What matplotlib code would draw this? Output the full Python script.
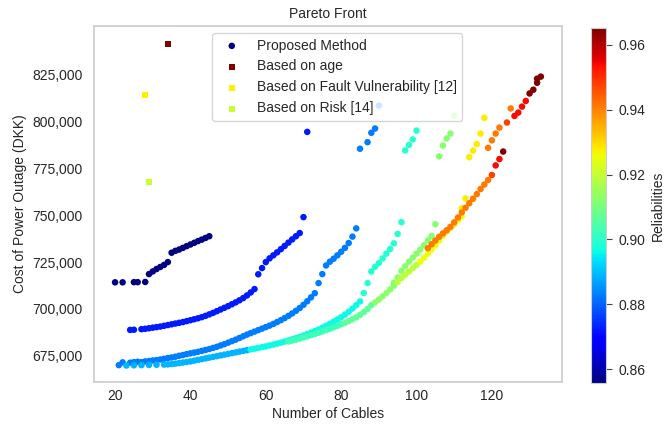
import numpy as np
import matplotlib
matplotlib.use("Agg")
import matplotlib.pyplot as plt
from matplotlib.ticker import StrMethodFormatter

plt.rcParams['font.family'] = ['Liberation Sans', 'DejaVu Sans']
plt.rcParams['font.size'] = 10
plt.rcParams['text.color'] = '#262626'
plt.rcParams['axes.labelcolor'] = '#262626'
plt.rcParams['xtick.color'] = '#262626'
plt.rcParams['ytick.color'] = '#262626'

# Pareto points of the proposed method, one group per branch:
# number of cables, cost of power outage (DKK), reliability
navy_x = [20, 22, 25, 26, 28, 29, 30, 31, 32, 33, 34, 35, 36, 37, 38, 39, 40, 41, 42, 43, 44, 45]
navy_y = [714200, 714200, 714300, 714300, 714400, 718600, 720000, 721300, 722400, 723500, 725000,
          730000, 731000, 731700, 732600, 733500, 734400, 735300, 736200, 737000, 737900, 738800]
navy_r = 0.8557

blue_x = [24, 25, 27, 28, 29, 30, 31, 32, 33, 34, 35, 36, 37, 38, 39, 40, 41, 42, 43, 44, 45, 46,
          47, 48, 49, 50, 51, 52, 53, 54, 55, 56, 57, 58, 59, 60, 61, 62, 63, 64, 65, 66, 67, 68,
          69, 70, 71]
blue_y = [688800, 688900, 689200, 689400, 689700, 690000, 690300, 690600, 691000, 691400, 691800,
          692200, 692600, 693000, 693500, 694000, 694500, 695000, 695600, 696300, 697100, 697900,
          698800, 699700, 700600, 701500, 702500, 703500, 704600, 705800, 707200, 708800, 710600,
          718500, 721800, 725000, 727000, 728600, 730200, 731900, 733600, 735400, 737100, 738800,
          740500, 749000, 794500]
blue_r = 0.872

azure_x = [21, 22, 24, 25, 26, 27, 28, 29, 30, 31, 32, 33, 34, 35, 36, 37, 38, 39, 40, 41, 42, 43,
           44, 45, 46, 47, 48, 49, 50, 51, 52, 53, 54, 55, 56, 57, 58, 59, 60, 61, 62, 63, 64, 65,
           66, 67, 68, 69, 70, 71, 72, 73, 74, 75, 76, 77, 78, 79, 80, 81, 82, 83, 84, 85, 87, 88,
           89, 90]
azure_y = [670000, 671500, 671300, 671600, 671800, 671600, 672000, 672200, 672500, 672700, 673000,
           673400, 673800, 674100, 674500, 675000, 675400, 675900, 676300, 676700, 677100, 677600,
           678100, 678600, 679200, 679800, 680500, 681200, 682000, 682800, 683600, 684500, 685400,
           686300, 687100, 687900, 688700, 689500, 690300, 691100, 692000, 693000, 694000, 695100,
           696300, 697600, 699000, 700500, 702200, 704100, 706200, 708400, 713800, 718600, 723200,
           725200, 726800, 728600, 730500, 732600, 735200, 738600, 743000, 785500, 789000, 794000,
           796300, 808500]
azure_r = 0.883

sky_x = [23, 25, 27, 29, 31, 33, 34, 35, 36, 37, 38, 39, 40, 41, 42, 43, 44, 45, 46, 47, 48, 49,
         50, 51, 52, 53, 54, 55]
sky_y = [669800, 669900, 670000, 670100, 670200, 670300, 670400, 670600, 670800, 671100, 671400,
         671700, 672000, 672400, 672800, 673200, 673600, 674000, 674400, 674800, 675200, 675600,
         676000, 676400, 676800, 677200, 677600, 678000]
sky_r = 0.889

cyan_x = [56, 57, 58, 59, 60, 61, 62, 63, 64, 65, 66, 67, 68, 69, 70, 71, 72, 73, 74, 75, 76, 77,
          78, 79, 80, 81, 82, 83, 84, 85]
cyan_y = [678400, 678800, 679200, 679600, 680000, 680500, 681000, 681500, 682000, 682600, 683200,
          683800, 684400, 685100, 685800, 686600, 687400, 688200, 689000, 690000, 691000, 692100,
          693200, 694400, 695600, 697000, 698500, 700200, 702000, 704000]
cyan_r = 0.896

teal_x = [86, 87, 88, 89, 90, 91, 92, 93, 94, 95, 96, 97, 98, 99, 100]
teal_y = [708500, 713800, 720000, 722500, 724500, 727000, 729500, 732000, 735000, 740000, 746300,
          784600, 787500, 790500, 795200]
teal_r = 0.899

aqua_x = [66, 67, 68, 69, 70, 71, 72, 73, 74, 75, 76, 77, 78, 79, 80]
aqua_y = [682600, 683100, 683600, 684200, 684800, 685400, 686000, 686600, 687300, 688000, 688700,
          689400, 690200, 691000, 691800]
aqua_r = 0.902

mint_x = [81, 82, 83, 84, 85, 86, 87, 88]
mint_y = [692600, 693500, 694500, 695500, 696800, 698300, 700000, 702000]
mint_r = 0.907

lime_x = [89, 90, 91, 92, 93, 94]
lime_y = [703500, 705000, 706700, 708500, 710400, 712400]
lime_r = 0.913

green_x = [94, 95, 96, 97, 98, 99, 100, 101, 102, 103, 104, 105, 106, 107, 108, 109, 110]
green_y = [714000, 716800, 720300, 722800, 725200, 727400, 729500, 731600, 734000, 736600, 739000,
           745200, 781400, 787200, 791000, 793600, 803200]
green_r = 0.912

chart_x = [95, 96, 97, 98, 99, 100]
chart_y = [714400, 716500, 718300, 720000, 721800, 723500]
chart_r = 0.919

gold_x = [101, 102, 103, 104, 105, 106, 107, 108, 109, 110, 111, 112]
gold_y = [725300, 727300, 729400, 731700, 734000, 736500, 739000, 741200, 743300, 745200, 747300,
          749500]
gold_r = 0.925

yellow_x = [112, 113, 114, 115, 116, 117, 118]
yellow_y = [753700, 759000, 781000, 784500, 788000, 793600, 802000]
yellow_r = 0.928

orange_x = [103, 104, 105, 106, 107, 108, 109, 110, 111, 112, 113, 114, 115, 116, 117, 118, 119,
            119, 120, 121, 122, 125]
orange_y = [732400, 734500, 736500, 738500, 740300, 742000, 743800, 746200, 748800, 751500, 754000,
            756400, 758800, 761300, 764000, 766400, 768800, 786000, 790000, 793600, 796800, 807000]
orange_r = 0.941

vermilion_x = [120, 124]
vermilion_y = [771500, 799500]
vermilion_r = 0.948

red_x = [121, 122, 126, 127, 128, 129]
red_y = [776600, 780000, 803000, 804800, 808000, 811000]
red_r = 0.954

maroon_x = [123, 130, 131, 132, 132, 133]
maroon_y = [784000, 815000, 817000, 820700, 822900, 824000]
maroon_r = 0.9652

# single solutions of the reference methods
age_x, age_y, age_r = [34], [841500], [0.9652]
fault_x, fault_y, fault_r = [28], [814000], [0.9274]
risk_x, risk_y, risk_r = [29], [767500], [0.9206]

branches = [
    (navy_x, navy_y, navy_r), (blue_x, blue_y, blue_r), (azure_x, azure_y, azure_r),
    (sky_x, sky_y, sky_r), (cyan_x, cyan_y, cyan_r), (teal_x, teal_y, teal_r),
    (aqua_x, aqua_y, aqua_r), (mint_x, mint_y, mint_r), (lime_x, lime_y, lime_r),
    (green_x, green_y, green_r), (chart_x, chart_y, chart_r), (gold_x, gold_y, gold_r),
    (yellow_x, yellow_y, yellow_r), (orange_x, orange_y, orange_r),
    (vermilion_x, vermilion_y, vermilion_r), (red_x, red_y, red_r),
    (maroon_x, maroon_y, maroon_r),
]
cables = np.concatenate([b[0] for b in branches])
cost = np.concatenate([b[1] for b in branches])
rel = np.concatenate([np.full(len(b[0]), b[2]) for b in branches])

vmin, vmax = rel.min(), rel.max()

fig = plt.figure(figsize=(6.66, 4.30), dpi=100)
ax = fig.add_axes([0.1411, 0.1116, 0.7027, 0.8279])
cax = fig.add_axes([0.8874, 0.1093, 0.0225, 0.8256])

sc = ax.scatter(cables, cost, c=rel, cmap='jet', vmin=vmin, vmax=vmax, s=22,
                linewidths=0, label='Proposed Method')
ax.scatter(age_x, age_y, c=age_r, cmap='jet', vmin=vmin, vmax=vmax, marker='s', s=22,
           linewidths=0, label='Based on age')
ax.scatter(fault_x, fault_y, c=fault_r, cmap='jet', vmin=vmin, vmax=vmax, marker='s', s=22,
           linewidths=0, label='Based on Fault Vulnerability [12]')
ax.scatter(risk_x, risk_y, c=risk_r, cmap='jet', vmin=vmin, vmax=vmax, marker='s', s=22,
           linewidths=0, label='Based on Risk [14]')

ax.set_xlim(14.4, 138.6)
ax.set_ylim(661000, 851000)
ax.set_xticks([20, 40, 60, 80, 100, 120])
ax.set_yticks([675000, 700000, 725000, 750000, 775000, 800000, 825000])
ax.yaxis.set_major_formatter(StrMethodFormatter('{x:,.0f}'))
ax.tick_params(axis='y', length=0, pad=8)
ax.tick_params(axis='x', length=0, pad=5)
for sp in ax.spines.values():
    sp.set_color('#cccccc')
    sp.set_linewidth(1.2)

ax.set_xlabel('Number of Cables', labelpad=3)
ax.set_ylabel('Cost of Power Outage (DKK)')
ax.set_title('Pareto Front', fontsize=10, pad=6)
ax.legend(loc='upper center', bbox_to_anchor=(0.52, 1.0), edgecolor='#cccccc')

cb = fig.colorbar(sc, cax=cax)
cb.set_label('Reliabilities')
cb.set_ticks([0.86, 0.88, 0.90, 0.92, 0.94, 0.96])
cb.outline.set_edgecolor('#cccccc')
cb.ax.tick_params(length=4, pad=5, color='#444444')

fig.savefig('out.png', dpi=100)
